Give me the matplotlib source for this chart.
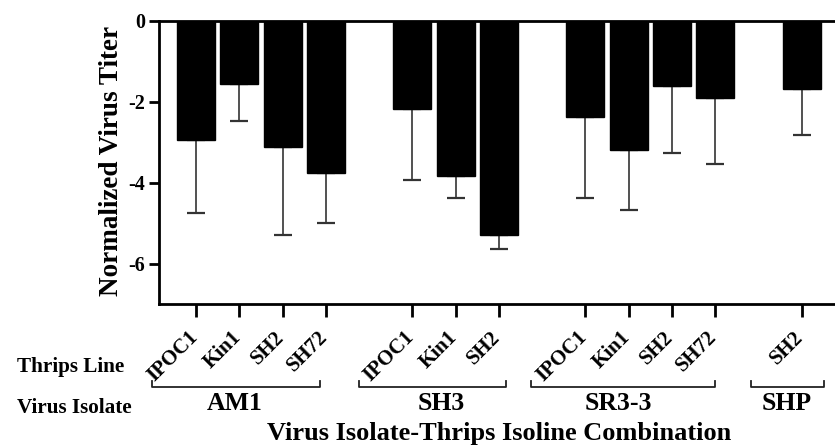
import matplotlib
matplotlib.use("Agg")
import matplotlib.pyplot as plt
import matplotlib.transforms as mtransforms
import numpy as np

plt.rcParams['font.family'] = ['Liberation Serif', 'DejaVu Serif']
plt.rcParams['font.weight'] = 'bold'

# ---- data ----
groups = ["AM1", "SH3", "SR3-3", "SHP"]
thrips = [["IPOC1", "Kin1", "SH2", "SH72"],
          ["IPOC1", "Kin1", "SH2"],
          ["IPOC1", "Kin1", "SH2", "SH72"],
          ["SH2"]]
means = [[-2.95, -1.56, -3.13, -3.76],
         [-2.17, -3.84, -5.29],
         [-2.37, -3.19, -1.62, -1.91],
         [-1.68]]
err_low = [[1.79, 0.93, 2.16, 1.24],
           [1.77, 0.53, 0.35],
           [2.00, 1.48, 1.64, 1.63],
           [1.14]]

# ---- positions (one empty slot between groups) ----
pos, labels, vals, errs = [], [], [], []
slot = 0
for g, (tl, m, e) in enumerate(zip(thrips, means, err_low)):
    for t, v, d in zip(tl, m, e):
        pos.append(slot); labels.append(t); vals.append(v); errs.append(d)
        slot += 1
    slot += 1
pos = np.array(pos); vals = np.array(vals); errs = np.array(errs)

W, H, DPI = 835, 445, 100
fig = plt.figure(figsize=(W / DPI, H / DPI), dpi=DPI)
ax = fig.add_axes([159 / W, 1 - 304 / H, 1 - 159 / W + 0.002, (304 - 20.7) / H])

ax.bar(pos, vals, width=0.88, color='black', edgecolor='black', zorder=2)
ax.errorbar(pos, vals, yerr=[errs, np.zeros_like(errs)], fmt='none',
            ecolor='#333333', elinewidth=1.2, capsize=6.8, capthick=1.6, zorder=1)

ax.set_xlim(-0.858, 14.81)
ax.set_ylim(-7, 0)
ax.set_yticks([0, -2, -4, -6])
ax.set_yticklabels(['0', '-2', '-4', '-6'])
ax.set_xticks(pos)
ax.set_xticklabels([])

for s in ['left', 'bottom', 'top']:
    ax.spines[s].set_linewidth(2)
ax.spines['right'].set_visible(False)
ax.tick_params(axis='y', length=7, width=2, labelsize=14.5, pad=3)
ax.tick_params(axis='x', length=9, width=2)
for lab in ax.get_yticklabels():
    lab.set_fontweight('bold')

# rotated thrips-line labels: bbox top-right just right of tick, below it
trans = mtransforms.blended_transform_factory(ax.transData, fig.transFigure)
offset = mtransforms.ScaledTranslation(6 / DPI, 0, fig.dpi_scale_trans)
for p, lab in zip(pos, labels):
    ax.text(p, 1 - 327 / H, lab, transform=trans + offset, rotation=45,
            ha='right', va='top', fontsize=15, fontweight='bold', clip_on=False)

fig.text(112 / W, 1 - 161 / H, "Normalized Virus Titer", rotation=90,
         ha='center', va='center', fontsize=19.5, fontweight='bold')

fig.text(17 / W, 1 - 372 / H, "Thrips Line", ha='left', va='baseline',
         fontsize=15.2, fontweight='bold')
fig.text(17 / W, 1 - 413 / H, "Virus Isolate", ha='left', va='baseline',
         fontsize=15.2, fontweight='bold')

# group brackets (x in data, y in figure fraction)
bracket_x = [(-1.02, 2.87), (3.76, 7.16), (7.74, 12.0), (12.84, 14.51)]
group_cx = [235, 441, 618, 787]
yb = 1 - 387 / H
yt = 1 - 381 / H
for (x0, x1), name, cx in zip(bracket_x, groups, group_cx):
    ax.plot([x0, x0, x1, x1], [yt, yb, yb, yt], color='#222222', lw=1.3,
            transform=trans, clip_on=False)
    fig.text(cx / W, 1 - 410 / H, name, ha='center', va='baseline',
             fontsize=18.5, fontweight='bold')

fig.text(499 / W, 1 - 440 / H, "Virus Isolate-Thrips Isoline Combination",
         ha='center', va='baseline', fontsize=19, fontweight='bold')

fig.savefig("out.png", dpi=DPI)
